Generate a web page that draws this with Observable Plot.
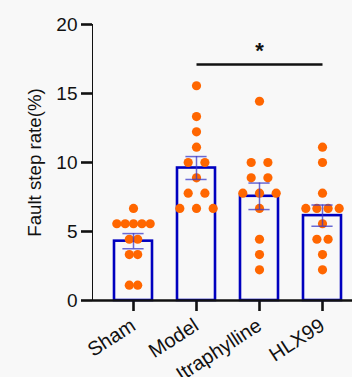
<!DOCTYPE html>
<html><head><meta charset="utf-8">
<script src="https://cdn.jsdelivr.net/npm/d3@7"></script>
<script src="https://cdn.jsdelivr.net/npm/@observablehq/plot@0.6"></script>
<style>
html,body{margin:0;padding:0;background:#f8f8f8;}
#chart svg{background:#f8f8f8;}
#chart [aria-label^="x-axis"] path,#chart [aria-label^="x-axis"] line,
#chart [aria-label^="y-axis"] path,#chart [aria-label^="y-axis"] line{stroke:#111;stroke-width:2.6px;}
#chart [aria-label^="x-axis"] text{font-size:20px;}
</style>
</head><body><div id="chart"></div>
<script>
const groups = ["Sham", "Model", "Itraphylline", "HLX99"];
const shamValues = [6.67, 5.56, 5.56, 5.56, 5.56, 5.56, 4.44, 4.44, 3.33, 3.33, 1.11, 1.11];
const modelValues = [15.56, 13.33, 12.22, 11.11, 10.0, 10.0, 8.89, 7.78, 7.78, 6.67, 6.67, 6.67];
const itraValues = [14.44, 10.0, 10.0, 8.89, 8.89, 7.78, 7.78, 7.78, 6.67, 4.44, 3.33, 2.22];
const hlxValues = [11.11, 10.0, 7.78, 6.67, 6.67, 6.67, 6.67, 5.56, 4.44, 4.44, 3.33, 2.22];
const means = [4.3, 9.6, 7.55, 6.15];
const sems = [0.55, 0.83, 0.96, 0.77];
const yTicks = [0, 5, 10, 15, 20];
const yLabel = "Fault step rate(%)";
const comparison = {from: "Model", to: "HLX99", labelAt: "Itraphylline", label: "*", lineY: 17.1, labelY: 18.1};

const barData = groups.map((g, i) => ({group: g, mean: means[i], sem: sems[i]}));
const allValues = [shamValues, modelValues, itraValues, hlxValues];
const points = [];
allValues.forEach((vals, gi) => {
  const rows = d3.group(vals, v => v);
  const maxRow = d3.max(Array.from(rows.values()), r => r.length);
  const spacing = Math.min(16.7, 33.4 / Math.max(1, maxRow - 1));
  for (const [v, r] of rows) r.forEach((_, i) => points.push({
    group: groups[gi], value: v,
    dx: Math.round((i - (r.length - 1) / 2) * spacing * 10) / 10
  }));
});
const dxs = Array.from(new Set(points.map(p => p.dx)));
const dotMarks = dxs.map(dx => Plot.dot(points.filter(p => p.dx === dx), {
  x: "group", y: "value", dx, r: 4.6, fill: "#ff6600", stroke: "none"
}));

const errColor = "#3a3ac8";
const chart = Plot.plot({
  width: 352, height: 377,
  marginTop: 24, marginBottom: 77, marginLeft: 92, marginRight: 0,
  style: {fontFamily: "Liberation Sans, Arial, sans-serif", fontSize: "19px", color: "#111", background: "#f8f8f8"},
  x: {domain: groups, range: [92, 363], paddingInner: 0.4, paddingOuter: 0.35, tickSize: 11, tickPadding: 12, tickRotate: -33, label: null},
  y: {domain: [0, 20], ticks: yTicks, tickSize: 11, tickPadding: 4, label: null, line: true},
  marks: [
    Plot.barY(barData, {x: "group", y: "mean", fill: "none", stroke: "#0000bf", strokeWidth: 2.6}),
    ...dotMarks,
    Plot.ruleX(barData, {x: "group", y1: d => d.mean - d.sem, y2: d => d.mean + d.sem, stroke: errColor, strokeOpacity: 0.75, strokeWidth: 1.5}),
    Plot.tickY(barData, {x: "group", y: d => d.mean + d.sem, insetLeft: 8.4, insetRight: 8.4, stroke: errColor, strokeOpacity: 0.75, strokeWidth: 1.5}),
    Plot.tickY(barData, {x: "group", y: d => d.mean - d.sem, insetLeft: 8.4, insetRight: 8.4, stroke: errColor, strokeOpacity: 0.75, strokeWidth: 1.5}),
    Plot.ruleY([0], {stroke: "#111", strokeWidth: 2.7}),
    Plot.link([comparison], {x1: "from", x2: "to", y1: "lineY", y2: "lineY", stroke: "#111", strokeWidth: 2.7}),
    Plot.text([comparison], {x: "labelAt", y: "labelY", text: "label", fontSize: 22, fontWeight: "bold", fill: "#111"}),
    Plot.text([yLabel], {frameAnchor: "left", dx: -57, rotate: -90, text: d => d, fontSize: 18.7, textAnchor: "middle", fill: "#111"})
  ]
});
document.getElementById("chart").appendChild(chart);
</script>
</body></html>
